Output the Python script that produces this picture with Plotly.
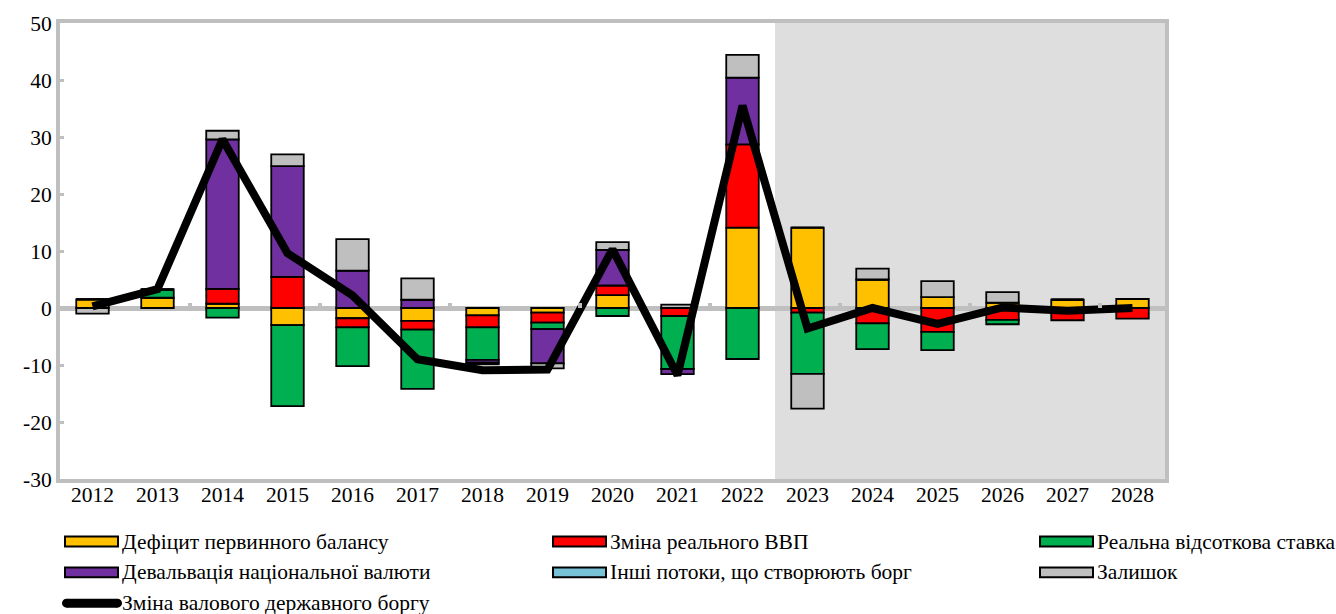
import plotly.graph_objects as go

# Debt dynamics decomposition, % of GDP
years = list(range(2012, 2029))

primary_deficit = [1.5, 1.8, 0.75, -3.0, -1.8, -2.25, -1.3, -0.8, 2.25, 0.0, 14.1, 14.1, 5.0, 1.9, 0.95, 1.45, 1.6]
real_gdp = [0.0, 0.0, 2.6, 5.45, -1.6, -1.55, -2.1, -1.75, 1.7, -1.4, 14.6, -0.8, -2.7, -4.2, -2.1, -2.15, -1.85]
real_rate = [0.0, 1.45, -1.7, -14.2, -6.8, -10.4, -5.7, -1.15, -1.4, -9.3, -8.95, -10.75, -4.5, -3.2, -0.75, 0.0, 0.0]
devaluation = [0.0, 0.0, 26.25, 19.45, 6.55, 1.45, -0.5, -6.0, 6.25, -0.9, 11.7, 0.0, 0.0, 0.0, 0.0, 0.0, 0.0]
other_flows = [0.0] * 17
residual = [-1.0, 0.0, 1.5, 2.05, 5.55, 3.75, -0.3, -0.9, 1.35, 0.6, 4.0, -6.1, 1.9, 2.8, 1.85, 0.0, 0.0]
debt_change = [0.3, 3.3, 29.6, 9.6, 2.2, -9.0, -10.9, -10.8, 10.3, -11.8, 35.5, -3.6, 0.0, -2.8, 0.1, -0.5, 0.0]

y_ticks = [-30, -20, -10, 0, 10, 20, 30, 40, 50]
y_tick_labels = ["-30", "-20", "-10", "0", "10", "20", "30", "40", "50"]

forecast_start = 2022.5

bar_series = [
    ("Дефіцит первинного балансу", primary_deficit, "#FFC000"),
    ("Зміна реального ВВП", real_gdp, "#FF0000"),
    ("Реальна відсоткова ставка", real_rate, "#00B050"),
    ("Девальвація національної валюти", devaluation, "#7030A0"),
    ("Інші потоки, що створюють борг", other_flows, "#78C2D8"),
    ("Залишок", residual, "#BFBFBF"),
]
line_name = "Зміна валового державного боргу"

FONT = "Liberation Serif"
FS = 21.5
GRID = "#BFBFBF"
W, H = 1336, 614
ML, MR, MT, MB = 60, 171, 20, 135
PW, PH = W - ML - MR, H - MT - MB


def fx(px):
    return (px - ML) / PW


def fy(py):
    return (H - MB - py) / PH


fig = go.Figure()
for name, vals, color in bar_series:
    fig.add_trace(go.Bar(
        x=years, y=vals, name=name, width=0.5,
        marker=dict(color=color, line=dict(color="black", width=1.8)),
        showlegend=False,
    ))

fig.add_trace(go.Scatter(
    x=years, y=debt_change, name=line_name, mode="lines",
    line=dict(color="black", width=8), showlegend=False,
))

# helper axis carrying the small marks along the zero line
fig.add_trace(go.Scatter(x=years, y=debt_change, xaxis="x2", mode="lines",
                         line=dict(width=0), hoverinfo="skip", showlegend=False))

shapes = [dict(type="rect", xref="x", yref="paper", x0=forecast_start, x1=years[-1] + 0.5,
               y0=0, y1=1, fillcolor="#DEDEDE", line=dict(width=0), layer="below")]
annotations = []

# legend: three columns, entries in series order
col_x = [65, 553, 1040]
row_y = [542, 573, 604]
entries = [(n, c) for n, _, c in bar_series] + [(line_name, None)]
for i, (name, color) in enumerate(entries):
    cx = col_x[i % 3]
    cy = row_y[i // 3]
    if color is None:
        shapes.append(dict(type="line", xref="paper", yref="paper",
                           x0=fx(cx + 2), x1=fx(cx + 52), y0=fy(cy), y1=fy(cy),
                           line=dict(color="black", width=9)))
        shapes.append(dict(type="circle", xref="paper", yref="paper",
                           x0=fx(cx - 3), x1=fx(cx + 6), y0=fy(cy - 4.5), y1=fy(cy + 4.5),
                           fillcolor="black", line=dict(width=0)))
        shapes.append(dict(type="circle", xref="paper", yref="paper",
                           x0=fx(cx + 48), x1=fx(cx + 57), y0=fy(cy - 4.5), y1=fy(cy + 4.5),
                           fillcolor="black", line=dict(width=0)))
    else:
        shapes.append(dict(type="rect", xref="paper", yref="paper",
                           x0=fx(cx), x1=fx(cx + 53), y0=fy(cy + 5), y1=fy(cy - 5),
                           fillcolor=color, line=dict(color="black", width=2)))
    annotations.append(dict(text=name, xref="paper", yref="paper", x=fx(cx + 55), y=fy(cy),
                            xanchor="left", yanchor="middle", showarrow=False,
                            font=dict(family=FONT, size=FS, color="black")))

fig.update_layout(
    width=W, height=H,
    margin=dict(l=ML, r=MR, t=MT, b=MB),
    barmode="relative",
    plot_bgcolor="white", paper_bgcolor="white",
    font=dict(family=FONT, size=FS, color="black"),
    showlegend=False,
    shapes=shapes,
    annotations=annotations,
    xaxis=dict(range=[years[0] - 0.5, years[-1] + 0.5], tickvals=years,
               ticktext=[str(y) for y in years], showgrid=False, zeroline=False,
               showline=True, mirror=True, linecolor=GRID, linewidth=4, ticks="",
               ticklabelstandoff=-7,
               tickfont=dict(family=FONT, size=FS)),
    xaxis2=dict(overlaying="x", anchor="free", position=0.375, side="bottom",
                range=[years[0] - 0.5, years[-1] + 0.5],
                tickvals=[y + 0.5 for y in years[1:-1:2]],
                ticks="inside", ticklen=5, tickwidth=4, tickcolor=GRID,
                showticklabels=False, showline=False, showgrid=False, zeroline=False),
    yaxis=dict(range=[-30, 50], tickvals=y_ticks, ticktext=y_tick_labels, showgrid=False,
               zeroline=True, zerolinecolor=GRID, zerolinewidth=5,
               showline=True, mirror=True, linecolor=GRID, linewidth=4,
               ticks="inside", ticklen=4, tickwidth=3, tickcolor=GRID,
               tickfont=dict(family=FONT, size=FS)),
)

fig.write_html("out.html")
